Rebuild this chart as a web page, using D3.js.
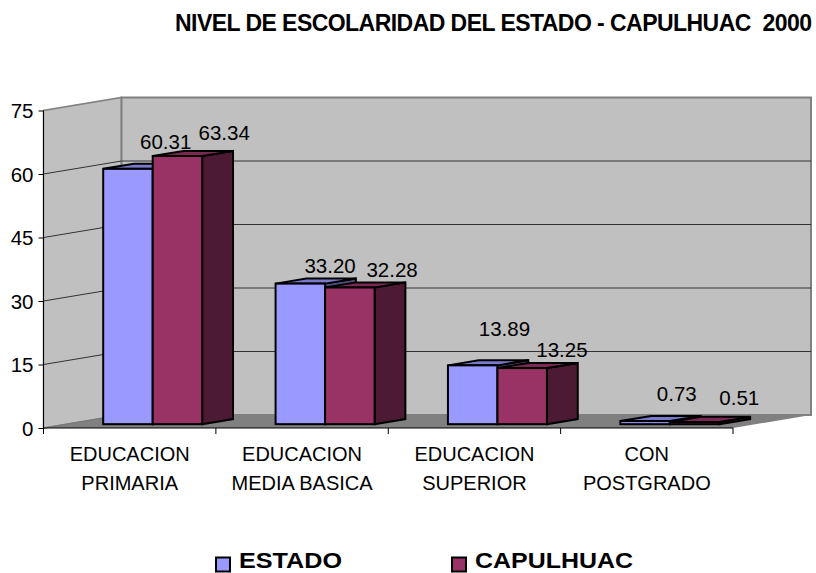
<!DOCTYPE html>
<html><head><meta charset="utf-8">
<script src="https://cdn.jsdelivr.net/npm/d3@7/dist/d3.min.js"></script>
<style>
html,body{margin:0;padding:0;background:#fff}
svg{display:block}
text{font-family:"Liberation Sans",Arial,sans-serif;fill:#000}
</style></head><body><svg id="c" width="816" height="573"></svg>
<script>
const title = "NIVEL DE ESCOLARIDAD DEL ESTADO - CAPULHUAC  2000";
const categories = [["EDUCACION","PRIMARIA"],["EDUCACION","MEDIA BASICA"],["EDUCACION","SUPERIOR"],["CON","POSTGRADO"]];
const seriesNames = ["ESTADO","CAPULHUAC"];
const estado = [60.31,33.20,13.89,0.73];
const capulhuac = [63.34,32.28,13.25,0.51];
const yTicks = [0,15,30,45,60,75];
const valueLabels = [["60.31","33.20","13.89","0.73"],["63.34","32.28","13.25","0.51"]];
const frontColors = ["#9999ff","#993366"];
const topColors = ["#7a7acc","#7a2952"];
const sideColors = ["#4d4d80","#4d1a33"];

const svg = d3.select("#c");
const x0 = 43.5, x1 = 733, yB = 428, yT = 110.5;
const dx = 78, dy = -13;           // full depth of the box
const zF = 0.295, zB = 0.69;       // bar depth range as share of the box depth
const y = d3.scaleLinear().domain([0,75]).range([yB,yT]);
const x = d3.scaleBand().domain(d3.range(categories.length)).range([x0,x1]);
const barW = 49.5;
const line = d3.line();

// walls and floor
svg.append("path").attr("d",line([[x0,yB],[x0+dx,yB+dy],[x1+dx,yB+dy],[x1,yB]])+"Z").attr("fill","#808080");
svg.append("path").attr("d",line([[x0,yB],[x0,yT],[x0+dx,yT+dy],[x0+dx,yB+dy]])+"Z").attr("fill","#c0c0c0").attr("stroke","#808080").attr("stroke-width",1.5);
svg.append("rect").attr("x",x0+dx).attr("y",yT+dy).attr("width",x1-x0).attr("height",yB-yT)
   .attr("fill","#c0c0c0").attr("stroke","#808080").attr("stroke-width",2);
// grid
yTicks.filter(d=>d>0&&d<75).forEach(t=>{
  svg.append("path").attr("d",line([[x0,y(t)],[x0+dx,y(t)+dy],[x1+dx,y(t)+dy]])).attr("fill","none").attr("stroke","#333").attr("stroke-width",1);
});
svg.append("path").attr("d",line([[x0,yB],[x0+dx,yB+dy]])).attr("stroke","#777").attr("stroke-width",1);

// bars
const series = [estado,capulhuac];
categories.forEach((c,i)=>{
  series.forEach((vals,s)=>{
    const v = vals[i];
    const L = x(i)+(x.bandwidth()-2*barW)/2+s*barW+dx*zF, R = L+barW;
    const b = y(0)+dy*zF, t = y(v)+dy*zF;
    const ox = dx*(zB-zF), oy = dy*(zB-zF);
    const g = svg.append("g").attr("stroke","#000").attr("stroke-width",2).attr("stroke-linejoin","miter");
    g.append("path").attr("d",line([[R,b],[R+ox,b+oy],[R+ox,t+oy],[R,t]])+"Z").attr("fill",sideColors[s]);
    g.append("path").attr("d",line([[L,t],[L+ox,t+oy],[R+ox,t+oy],[R,t]])+"Z").attr("fill",topColors[s]);
    g.append("rect").attr("x",L).attr("y",t).attr("width",barW).attr("height",b-t).attr("fill",frontColors[s]);
  });
});

// axes
const yAxis = d3.axisLeft(y).tickValues(yTicks).tickSize(5).tickPadding(5);
const ga = svg.append("g").attr("transform",`translate(${x0},0)`).call(yAxis);
ga.select(".domain").attr("stroke","#000").attr("d",`M0,${yT}V${yB+5}`);
ga.selectAll("line").attr("stroke","#000");
ga.selectAll("text").attr("font-size",20.5).style("font-family","Liberation Sans").attr("dy","0.36em");
svg.append("path").attr("d",line([[x0,yB],[x1,yB]])).attr("stroke","#000").attr("stroke-width",1);
d3.range(categories.length+1).forEach(i=>{
  const px = i<categories.length?x(i):x1;
  svg.append("path").attr("d",line([[px,yB],[px,yB+6]])).attr("stroke","#000");
});
categories.forEach((c,i)=>{
  c.forEach((t,k)=>{
    svg.append("text").attr("x",x(i)+x.bandwidth()/2).attr("y",460.5+k*29.5).attr("text-anchor","middle")
      .attr("font-size",20).text(t);
  });
});

// value labels: offset from the front top right corner of each bar
const labelNudge = [[[13,-20],[5,-11],[7,-29],[7,-20]],[[22,-16],[17.5,-11],[15,-11.5],[20,-17]]];
series.forEach((vals,s)=>{
  vals.forEach((v,i)=>{
    const L = x(i)+(x.bandwidth()-2*barW)/2+s*barW+dx*zF;
    const cx = L+barW+labelNudge[s][i][0], by = y(v)+dy*zF+labelNudge[s][i][1];
    svg.append("text").attr("x",cx).attr("y",by).attr("text-anchor","middle").attr("font-size",20.5).text(valueLabels[s][i]);
  });
});

// title
svg.append("text").attr("x",175).attr("y",31).attr("font-size",23).attr("font-weight","bold")
   .attr("textLength",637).attr("lengthAdjust","spacing").style("white-space","pre").text(title);

// legend
const legendX = [216,452], legendT = [239,475], legendW = [103,158];
seriesNames.forEach((n,s)=>{
  svg.append("rect").attr("x",legendX[s]).attr("y",557.5).attr("width",14).attr("height",14).attr("fill",frontColors[s]).attr("stroke","#000").attr("stroke-width",2);
  svg.append("text").attr("x",legendT[s]).attr("y",568.2).attr("font-size",22.5).attr("font-weight","bold")
     .attr("textLength",legendW[s]).attr("lengthAdjust","spacingAndGlyphs").text(n);
});
</script></body></html>
